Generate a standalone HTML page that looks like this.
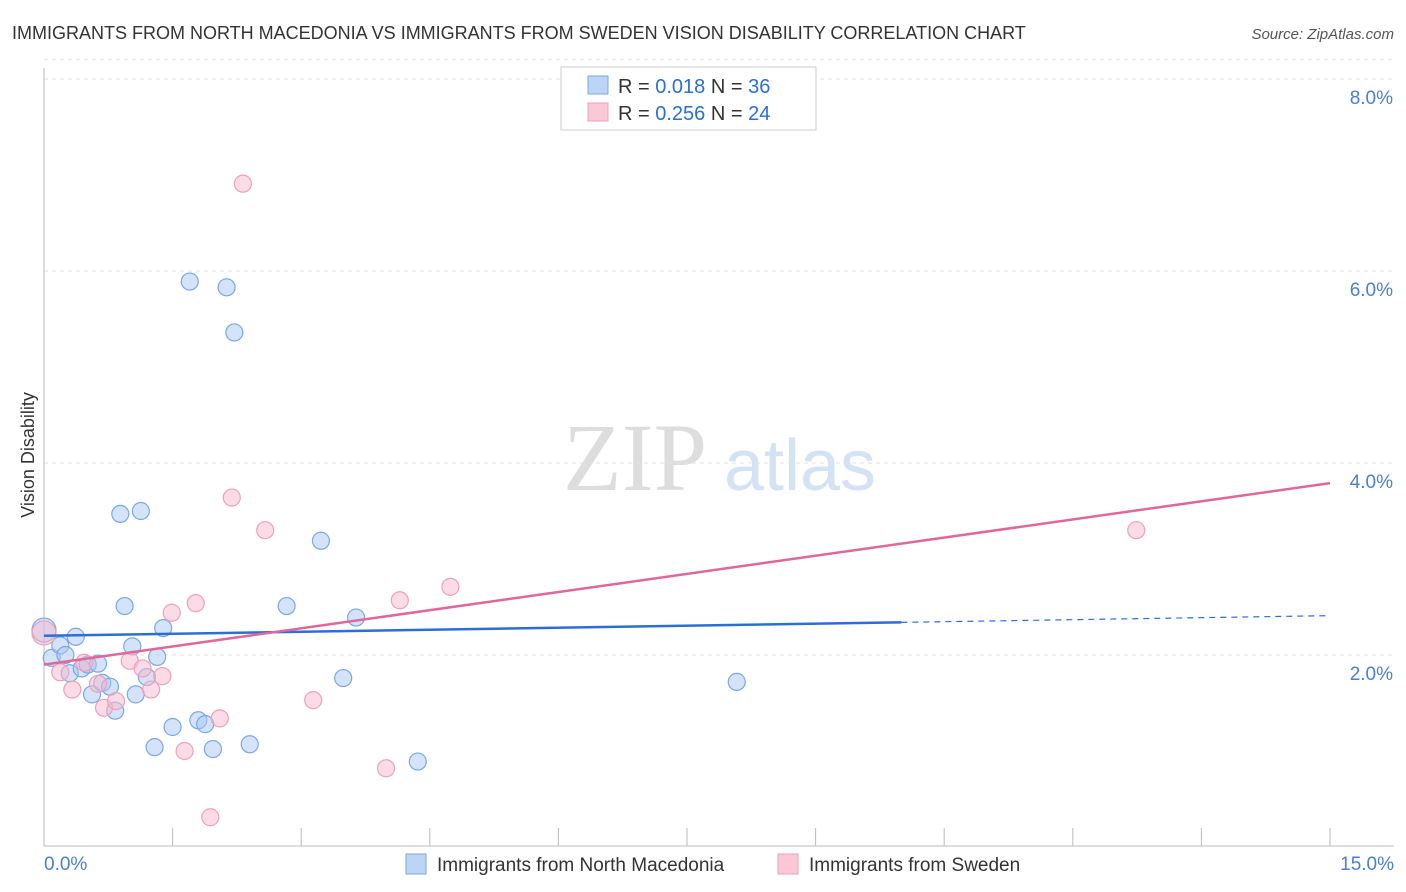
<!DOCTYPE html>
<html><head><meta charset="utf-8">
<style>
body{margin:0;background:#fff;font-family:"Liberation Sans",sans-serif;}
svg{display:block}
</style></head>
<body>
<svg id="chart" width="1406" height="892" viewBox="0 0 1406 892">
<text x="12" y="39" font-size="18" fill="#333">IMMIGRANTS FROM NORTH MACEDONIA VS IMMIGRANTS FROM SWEDEN VISION DISABILITY CORRELATION CHART</text>
<text x="1394" y="39" font-size="15" fill="#555" font-style="italic" text-anchor="end">Source: ZipAtlas.com</text>
<text x="34" y="455" font-size="18" fill="#333" text-anchor="middle" transform="rotate(-90 34 455)">Vision Disability</text>
<g>
<text x="635" y="490" font-size="96" fill="#ddd" font-family="Liberation Serif,serif" text-anchor="middle">ZIP</text>
<text x="800" y="490" font-size="72" fill="#d4e2f5" text-anchor="middle">atlas</text>
</g>
<g id="grid"></g><g id="axes"></g><g id="marks"></g>
<g>
<rect x="561" y="67" width="255" height="63" fill="#fff" stroke="#ccc"/>
<rect x="588" y="76" width="20" height="18" fill="#bcd5f5" stroke="#7aa8e6"/>
<rect x="588" y="103" width="20" height="18" fill="#fac8d7" stroke="#f0a0b8"/>
<text x="618" y="93" font-size="20" fill="#333">R = <tspan fill="#2a6fd6">0.018</tspan>   N = <tspan fill="#2a6fd6">36</tspan></text>
<text x="618" y="120" font-size="20" fill="#333">R = <tspan fill="#2a6fd6">0.256</tspan>   N = <tspan fill="#2a6fd6">24</tspan></text>
</g>
<g>
<rect x="406" y="854" width="20" height="20" fill="#bcd5f5" stroke="#7aa8e6"/>
<text x="437" y="871" font-size="19" fill="#333">Immigrants from North Macedonia</text>
<rect x="778" y="854" width="20" height="20" fill="#fac8d7" stroke="#f0a0b8"/>
<text x="809" y="871" font-size="19" fill="#333">Immigrants from Sweden</text>
</g>
</svg>
<script>
const yTicks=[2,4,6,8];
const yTickLabels=["2.0%","4.0%","6.0%","8.0%"];
const xTickCount=[0,1.5,3,4.5,6,7.5,9,10.5,12,13.5,15];
const xEndLabels=["0.0%","15.0%"];
const blueX=[0.00,0.09,0.19,0.25,0.37,0.30,0.44,0.51,0.63,0.56,0.68,0.77,0.83,0.89,0.94,1.13,1.03,1.07,1.20,1.32,1.39,1.29,1.50,1.70,1.80,1.88,1.97,2.13,2.22,2.40,2.83,3.23,3.49,3.64,4.36,8.08];
const blueY=[2.26,1.97,2.10,2.00,2.19,1.81,1.86,1.90,1.91,1.59,1.71,1.67,1.42,3.47,2.51,3.50,2.09,1.59,1.77,1.98,2.28,1.04,1.25,5.89,1.32,1.28,1.02,5.83,5.36,1.07,2.51,3.19,1.76,2.39,0.89,1.72];
const pinkX=[0.00,0.19,0.33,0.47,0.63,0.70,0.84,1.00,1.15,1.25,1.38,1.49,1.64,1.77,1.94,2.05,2.19,2.32,2.58,3.14,3.99,4.15,4.74,12.74];
const pinkY=[2.23,1.82,1.64,1.92,1.70,1.45,1.52,1.94,1.86,1.64,1.78,2.44,1.00,2.54,0.31,1.34,3.64,6.91,3.30,1.53,0.82,2.57,2.71,3.30];
const blueTrend=[2.20,2.34,2.41]; // at x=0, 10, 15
const pinkTrend=[1.90,3.79]; // at x=0, 15
const NS="http://www.w3.org/2000/svg";
const X=v=>44+v*(1286/15), Y=v=>847-v*96;
function mk(tag,attrs,parent){const e=document.createElementNS(NS,tag);for(const k in attrs)e.setAttribute(k,attrs[k]);document.getElementById(parent).appendChild(e);return e;}
yTicks.forEach((t,i)=>{
 const g=mk('line',{x1:44,x2:1394,y1:Y(t),y2:Y(t),stroke:'#e2e2e2','stroke-dasharray':'4,4'},'grid');
 
 
 const l=mk('text',{x:1393,y:Y(t)+25,'font-size':19,fill:'#4a7fd6','text-anchor':'end'},'axes');
 l.textContent=yTickLabels[i];
 
 
});
const tg=mk('line',{x1:44,x2:1394,y1:Y(8.2),y2:Y(8.2),stroke:'#e2e2e2','stroke-dasharray':'4,4'},'grid');


const ya=mk('line',{x1:44,x2:44,y1:68,y2:846,stroke:'#bbb'},'axes');


const xa=mk('line',{x1:44,x2:1394,y1:846,y2:846,stroke:'#bbb'},'axes');


xTickCount.forEach(t=>{
 const k=mk('line',{x1:X(t),x2:X(t),y1:828,y2:846,stroke:'#bbb'},'axes');
 
 
});
[[0,'start',44],[15,'end',1394]].forEach((d,i)=>{
 const l=mk('text',{x:d[2],y:870,'font-size':19,fill:'#4a7fd6','text-anchor':d[1]},'axes');
 l.textContent=xEndLabels[i];
 
 
});
function dots(xs,ys,fill,stroke,name){
 xs.forEach((x,i)=>{
  const c=mk('circle',{cx:X(x),cy:Y(ys[i]),r:(x===0?12:8.5),fill:fill,stroke:stroke,'stroke-width':1.2},'marks');
  
  
 });
}
dots(blueX,blueY,'rgba(170,200,242,0.5)','#7aa8e6','point-north-macedonia');
dots(pinkX,pinkY,'rgba(248,185,205,0.5)','#f0a0b8','point-sweden');
const b1=mk('line',{x1:X(0),y1:Y(blueTrend[0]),x2:X(10),y2:Y(blueTrend[1]),stroke:'#2a6fd6','stroke-width':2.5},'marks');


const b2=mk('line',{x1:X(10),y1:Y(blueTrend[1]),x2:X(15),y2:Y(blueTrend[2]),stroke:'#2a6fd6','stroke-width':1.2,'stroke-dasharray':'6,5'},'marks');


const p1=mk('line',{x1:X(0),y1:Y(pinkTrend[0]),x2:X(15),y2:Y(pinkTrend[1]),stroke:'#e0679a','stroke-width':2.5},'marks');


</script>
</body></html>
